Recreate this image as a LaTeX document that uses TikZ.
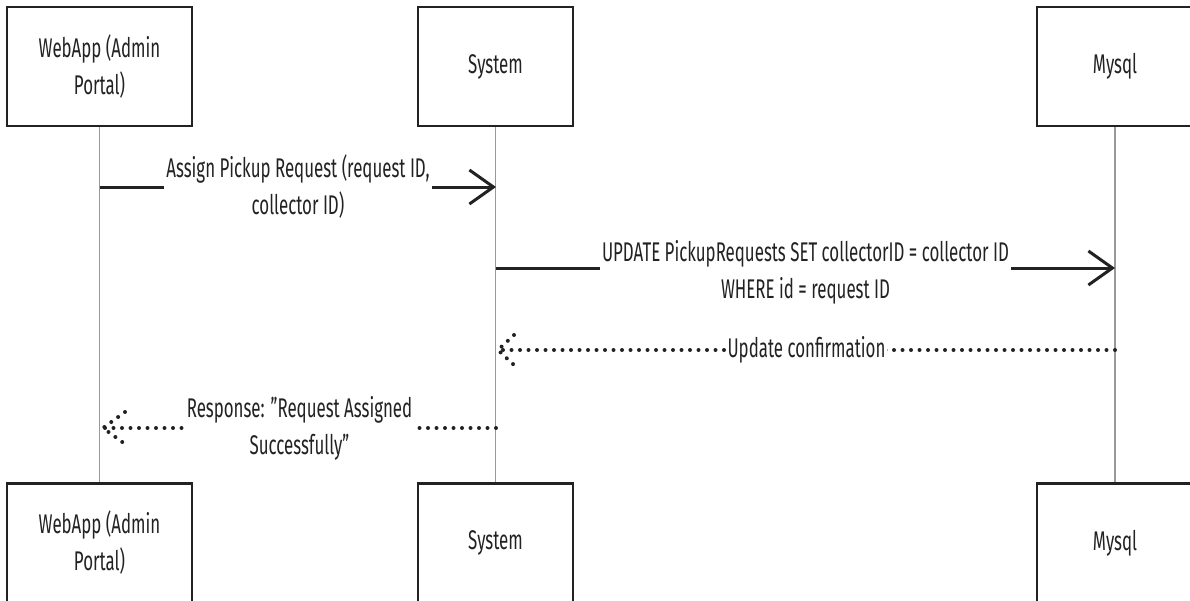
\documentclass[tikz,border=0pt]{standalone}
\usepackage{fontspec}
\setmainfont{Fira Sans}[FakeStretch=0.625]
\usetikzlibrary{arrows.meta,calc}
\definecolor{ink}{HTML}{222222}
\definecolor{lifegray}{HTML}{999999}
\tikzset{
  actor/.style={draw=ink, line width=2.4pt, fill=white, minimum height=119pt,
    align=center, font=\fontsize{27}{37}\selectfont, text=ink, inner sep=0pt},
  life/.style={draw=lifegray, line width=1.5pt},
  msg/.style={draw=ink, line width=3pt, -{Straight Barb[length=24pt,width=34pt,line width=3pt]}},
  dotmsg/.style={draw=ink, line width=4pt, line cap=round, dash pattern=on 0pt off 8.5pt},
  lbl/.style={fill=white, align=center, font=\fontsize{27}{37}\selectfont, text=ink,
    inner xsep=2pt, inner ysep=1pt},
}
\begin{document}
\begin{tikzpicture}[x=1pt,y=-1pt]
\useasboundingbox (0,0) rectangle (1190,600);
% actors
\node[actor, minimum width=185pt] (wtop) at (99.5,66.5) {WebApp (Admin\\Portal)};
\node[actor, minimum width=155pt] (stop) at (495.5,66.5) {System};
\node[actor, minimum width=156pt] (mtop) at (1115,66.5) {Mysql};
\node[actor, minimum width=185pt] (wbot) at (99.5,543) {WebApp (Admin\\Portal)};
\node[actor, minimum width=155pt] (sbot) at (495.5,543) {System};
\node[actor, minimum width=156pt] (mbot) at (1115,543) {Mysql};
% lifelines
\draw[life] (wtop.south) -- (wbot.north);
\draw[life] (stop.south) -- (sbot.north);
\draw[life] (mtop.south) -- (mbot.north);
% message coordinates
\coordinate (m1a) at (100,187);
\coordinate (m1b) at (496,187);
\coordinate (m2a) at (496,268);
\coordinate (m2b) at (1115,268);
\coordinate (m3a) at (1115,350);
\coordinate (m3b) at (498,350);
\coordinate (m4a) at (496,428);
\coordinate (m4b) at (103,428);
% message 1
\draw[msg] (m1a) -- (m1b) node[lbl, midway] {Assign Pickup Request (request ID,\\collector ID)};
% message 2
\draw[msg] (m2a) -- (m2b) node[lbl, midway, yshift=-4pt] {UPDATE PickupRequests SET collectorID = collector ID\\WHERE id = request ID};
% message 3 (dotted return)
\draw[dotmsg] (m3a) -- (m3b) node[lbl, midway] {Update confirmation};
\draw[dotmsg] ($(m3b)+(16,-15)$) -- (m3b) -- ($(m3b)+(16,15)$);
% message 4 (dotted return)
\draw[dotmsg] (m4a) -- (m4b) node[lbl, midway] {Response: "Request Assigned\\Successfully"};
\draw[dotmsg] ($(m4b)+(22,-16)$) -- (m4b) -- ($(m4b)+(22,16)$);
\end{tikzpicture}
\end{document}
